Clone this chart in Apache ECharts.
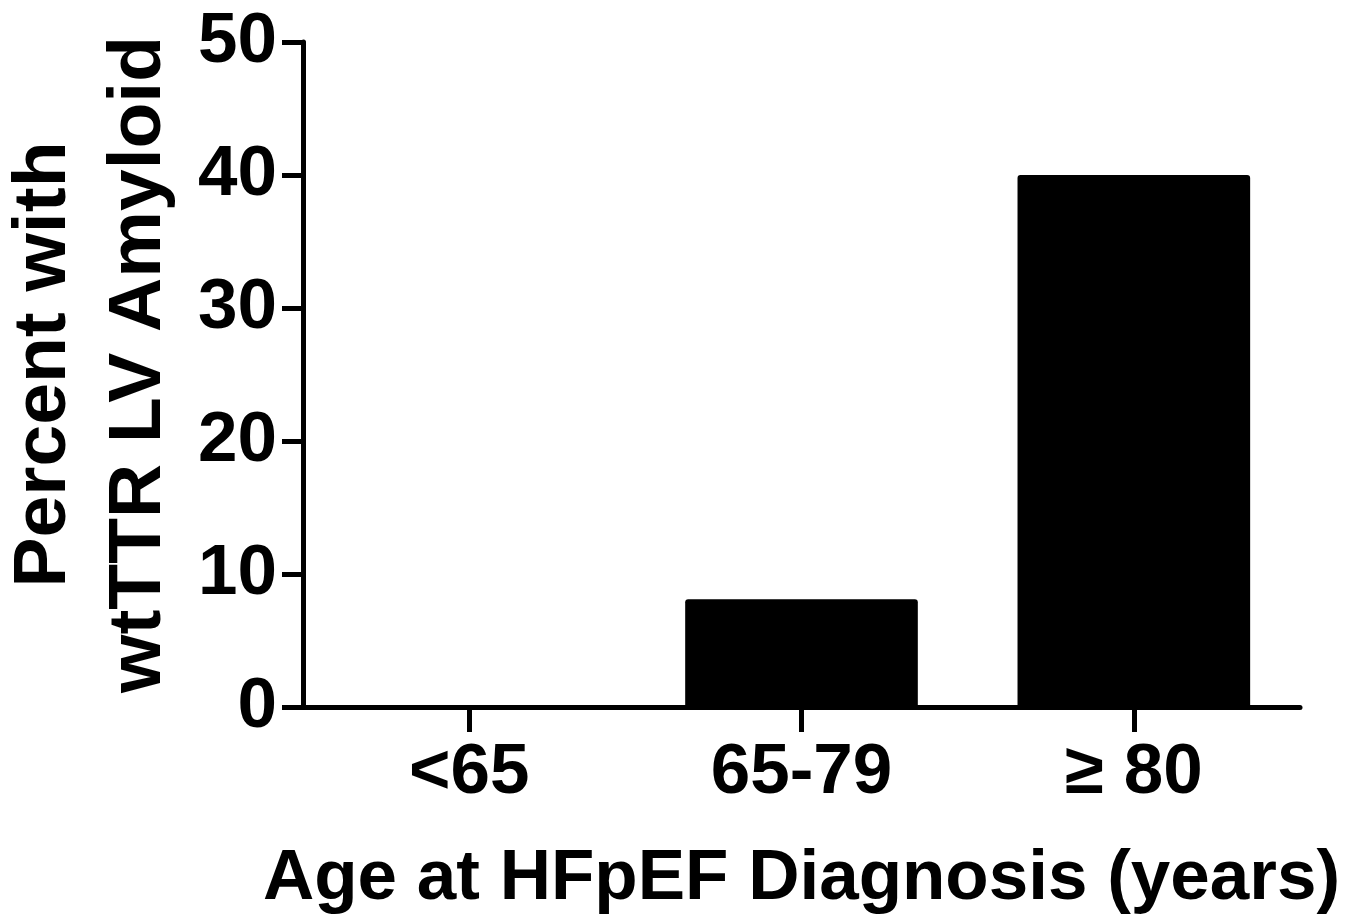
<!DOCTYPE html>
<html>
<head>
<meta charset="utf-8">
<script src="https://cdn.jsdelivr.net/npm/echarts@6/dist/echarts.min.js"></script>
<style>
  html, body { margin: 0; padding: 0; background: #fff; }
  #chart { width: 1358px; height: 923px; }
</style>
</head>
<body>
<div id="chart"></div>
<script>
const categories = ['<65', '65-79', '\u2265 80'];
const percentValues = [0, 8.1, 40];
const yTicks = [0, 10, 20, 30, 40, 50];
const yTitle = 'Percent with\nwtTTR LV Amyloid';
const xTitle = 'Age at HFpEF Diagnosis (years)';

const FONT = '"Liberation Sans", Arial, sans-serif';
const chart = echarts.init(document.getElementById('chart'), null, { renderer: 'canvas' });
chart.setOption({
  animation: false,
  backgroundColor: '#ffffff',
  grid: { left: 303, right: 58, top: 42, bottom: 216, containLabel: false, outerBoundsMode: 'none' },
  xAxis: {
    type: 'category',
    data: categories,
    name: xTitle,
    nameLocation: 'middle',
    nameGap: 137,
    nameTextStyle: { fontFamily: FONT, fontWeight: 'bold', fontSize: 71, color: '#000' },
    axisLine: { show: true, lineStyle: { color: '#000', width: 5 } },
    axisTick: { show: true, alignWithLabel: true, length: 25, lineStyle: { color: '#000', width: 5 } },
    axisLabel: { fontFamily: FONT, fontWeight: 'bold', fontSize: 71, color: '#000', margin: 31 },
    splitLine: { show: false }
  },
  yAxis: {
    type: 'value',
    min: yTicks[0],
    max: yTicks[yTicks.length - 1],
    interval: 10,
    name: yTitle,
    nameLocation: 'middle',
    nameGap: 116,
    nameRotate: 90,
    nameTextStyle: { fontFamily: FONT, fontWeight: 'bold', fontSize: 75, lineHeight: 95, color: '#000', align: 'center', padding: [0, 0, 0, 20] },
    axisLine: { show: true, lineStyle: { color: '#000', width: 5 } },
    axisTick: { show: true, length: 21, lineStyle: { color: '#000', width: 5 } },
    axisLabel: { fontFamily: FONT, fontWeight: 'bold', fontSize: 71, color: '#000', margin: 26 },
    splitLine: { show: false }
  },
  series: [{
    type: 'bar',
    data: percentValues,
    barCategoryGap: '30%',
    itemStyle: { color: '#000', borderRadius: [3, 3, 0, 0] }
  }]
});
</script>
</body>
</html>
